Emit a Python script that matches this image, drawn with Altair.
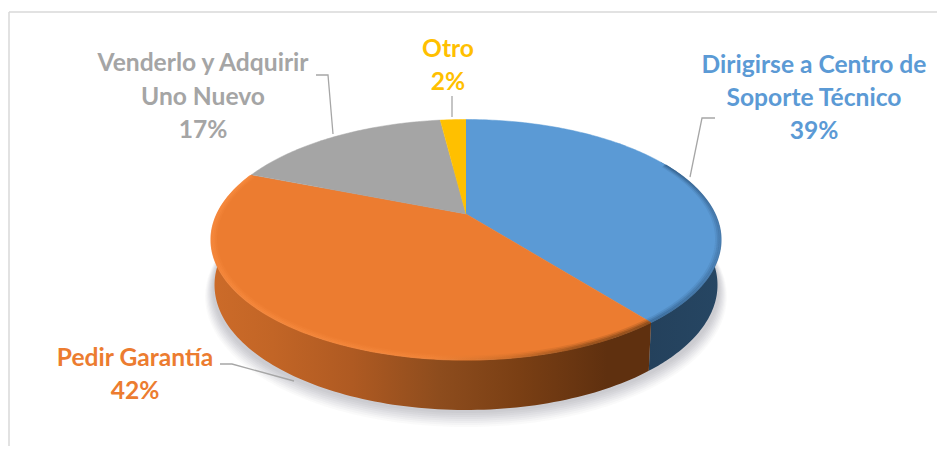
import numpy as np
import pandas as pd
import altair as alt

# --- values
categories = ["Dirigirse a Centro de Soporte Técnico", "Pedir Garantía", "Venderlo y Adquirir Uno Nuevo", "Otro"]
shares = [39.4, 41.6, 17, 2]
colors = ["#5B9AD5", "#EC7C30", "#A5A5A5", "#FFC000"]

label_lines = ["Dirigirse a Centro de", "Soporte Técnico", "39%",
               "Pedir Garantía", "42%",
               "Venderlo y Adquirir", "Uno Nuevo", "17%",
               "Otro", "2%"]
label_color = ["#5B9AD5"] * 3 + ["#EC7C30"] * 2 + ["#A5A5A5"] * 3 + ["#FFC000"] * 2
label_x = [814, 814, 814, 135, 135, 203, 203, 203, 448, 448]
label_y = [66, 99, 132, 359, 392, 64, 98, 131, 50, 83]

leaders = [
    ([715, 702, 690], [118, 118, 177]),
    ([220, 232, 294], [364, 364, 381]),
    ([316, 328, 333], [75, 75, 134]),
    ([452, 452], [96, 117]),
]

X = alt.X("x:Q", scale=alt.Scale(domain=[8, 937], range=[0, 929], nice=False, zero=False), axis=None)
Y = alt.Y("y:Q", scale=alt.Scale(domain=[8, 446], range=[0, 438], nice=False, zero=False), axis=None)

# Perspective projection of a disc seen from above
def project(theta_deg, top, bottom, mid, half_w, cx=466.0, r=1.0):
    t = np.radians(np.asarray(theta_deg, float))
    u, v = r * np.sin(t), r * np.cos(t)
    k = (top + bottom - 2 * mid) / (bottom - top)
    a = top * (1 + k) - mid
    c = half_w * np.sqrt(1 - k ** 2)
    w = 1 + k * v
    return cx + c * u / w, (a * v + mid) / w

TOP = dict(top=119.5, bottom=360, mid=214, half_w=255)
BOT = dict(top=160, bottom=410, mid=258, half_w=251.5)

def frame(xs, ys):
    return pd.DataFrame({"x": xs, "y": ys, "i": np.arange(len(xs))})

def poly(xs, ys, **mark):
    mark.setdefault("strokeWidth", 0)
    return alt.Chart(frame(xs, ys)).mark_line(**mark).encode(x=X, y=Y, order="i:Q")

def grad(stops):
    return {"gradient": "linear", "x1": 0, "x2": 1, "y1": 0, "y2": 0,
            "stops": [{"offset": o, "color": c} for o, c in stops]}

cum = np.cumsum([0] + shares) * 3.6
layers = []

# frame of the chart
layers.append(alt.Chart(frame([9, 937], [12, 12])).mark_line(stroke="#D9D9D9", strokeWidth=1.5).encode(x=X, y=Y, order="i:Q"))
layers.append(alt.Chart(frame([9, 9], [12, 446])).mark_line(stroke="#D9D9D9", strokeWidth=1.5).encode(x=X, y=Y, order="i:Q"))

# soft shadow
full = np.linspace(0, 360, 241)
for d, op in [(17, .05), (15, .06), (13, .07), (11, .08), (9, .09), (7, .10), (5, .10), (3, .10)]:
    sx, sy = project(full, top=166, bottom=410 + d, mid=262, half_w=251.5 + d * 0.55)
    layers.append(poly(sx, sy, fill="#9A9AA6", fillOpacity=op))

# side wall
side_fill = [
    grad([(0, "#24415C"), (1, "#264663")]),
    grad([(0, "#CC6B29"), (0.14, "#C26526"), (0.32, "#AF5A22"), (0.52, "#8D4C1D"),
          (0.70, "#7A3F14"), (0.9, "#5F300F"), (1, "#5F300F")]),
]
walls = [(60, cum[1]), (cum[1], 285)]
for (a, b), f in zip(walls, side_fill):
    th = np.linspace(a, b, 120)
    tx, ty = project(th, **TOP)
    bx, by = project(th, **BOT)
    layers.append(poly(np.r_[tx, bx[::-1]], np.r_[ty, by[::-1]], fill=f))

# top face
for i, col in enumerate(colors):
    th = np.linspace(cum[i], cum[i + 1], max(int(shares[i]) * 4, 8))
    tx, ty = project(th, **TOP)
    layers.append(poly(np.r_[466.0, tx], np.r_[TOP["mid"], ty], fill=col, stroke=col, strokeWidth=0.5))

# bevel along the rim
th_o = np.linspace(cum[1], 291, 160)
th_b = np.linspace(62, cum[1], 100)
bevel_o = grad([(0, "#F98C40"), (0.5, "#F3863A"), (0.68, "#C96C28"), (0.86, "#7A4215"), (1, "#6A3A12")])
bevel_b = grad([(0, "#2F5C88"), (0.6, "#34618D"), (1, "#3C6A99")])
for r, w, op in [(0.985, 4.0, .18), (0.99, 3.0, .3), (0.995, 2.0, .45), (1.0, 1.2, .6)]:
    ox, oy = project(th_o, r=r, **TOP)
    layers.append(alt.Chart(frame(ox, oy)).mark_line(stroke=bevel_o, strokeWidth=w, strokeOpacity=op).encode(x=X, y=Y, order="i:Q"))
    bx, by = project(th_b, r=r, **TOP)
    layers.append(alt.Chart(frame(bx, by)).mark_line(stroke=bevel_b, strokeWidth=w, strokeOpacity=op).encode(x=X, y=Y, order="i:Q"))

# leader lines
for lx, ly in leaders:
    layers.append(alt.Chart(frame(lx, ly)).mark_line(stroke="#A6A6A6", strokeWidth=1.3).encode(x=X, y=Y, order="i:Q"))

# labels
labels = pd.DataFrame({"x": label_x, "y": label_y, "t": label_lines, "c": label_color})
layers.append(alt.Chart(labels).mark_text(font="Lato", fontWeight="bold", fontSize=24.6, align="center", baseline="middle").encode(
    x=X, y=Y, text="t:N", color=alt.Color("c:N", scale=None)))

chart = alt.layer(*layers).properties(
    width=929, height=438, padding=0, autosize=alt.AutoSizeParams(type="none"), background="white"
).configure_view(stroke=None)

chart.save("out.html", embed_options={"renderer": "svg", "actions": False})
